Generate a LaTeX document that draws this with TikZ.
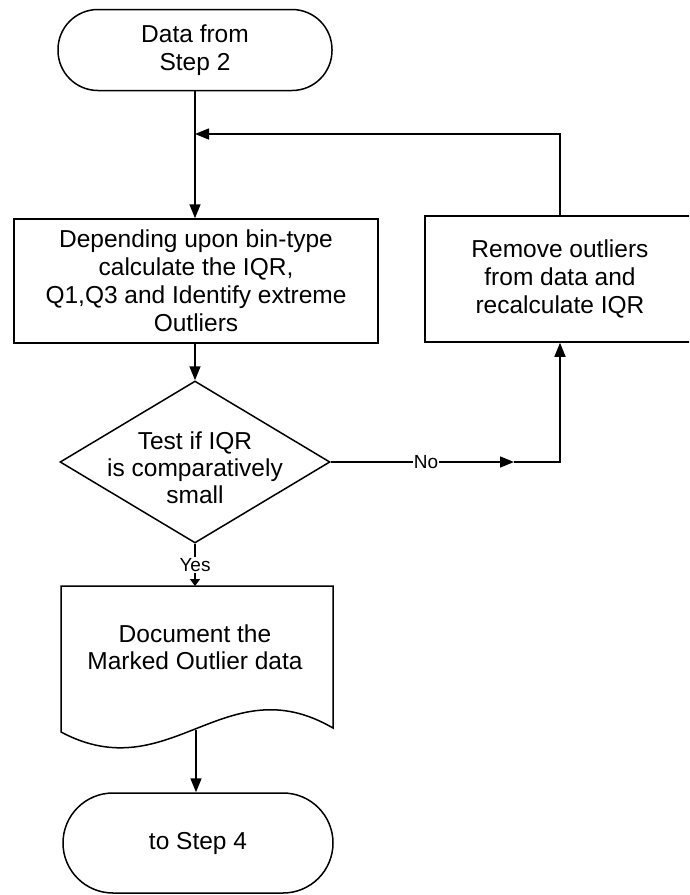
\documentclass[tikz,border=0pt]{standalone}
\usepackage{fontspec}
\setmainfont{Liberation Sans}
\usetikzlibrary{arrows.meta,shapes.geometric}
\tikzset{
  base/.style={font=\fontsize{24.5}{28}\selectfont, align=center, line width=1.5pt},
  term/.style={base, draw, rounded corners=40pt, inner sep=0pt},
  procbox/.style={base, draw, inner sep=0pt},
  dia/.style={draw, diamond, line width=1.5pt, inner sep=0pt, minimum width=270pt, minimum height=162pt},
  txt/.style={font=\fontsize{24.5}{27}\selectfont, align=center, inner sep=0pt},
  lbl/.style={font=\fontsize{19}{21}\selectfont, fill=white, inner sep=1pt},
  arr/.style={line width=1.5pt, -{Triangle[length=14pt,width=11pt]}},
  sarr/.style={line width=1.5pt, -{Triangle[length=7pt,width=10pt]}},
  ln/.style={line width=1.5pt}
}
\begin{document}
\begin{tikzpicture}[x=1pt,y=-1pt]
\useasboundingbox (0,0) rectangle (689,895);
\clip (0,0) rectangle (689,895);
\fill[white] (0,0) rectangle (689,895);

% nodes
\node[term, minimum width=274pt, minimum height=81pt] (start) at (195,50) {Data from\\Step 2};
\node[procbox, minimum width=364pt, minimum height=124pt] (calc) at (196,281) {Depending upon bin-type\\calculate the IQR,\\Q1,Q3 and Identify extreme\\Outliers};
\node[procbox, minimum width=270pt, minimum height=126pt] (rem) at (560,279) {Remove outliers\\from data and\\recalculate IQR};
\node[dia] (dec) at (195,462) {};
\node[txt] (dectxt) at (195,468) {Test if IQR\\is comparatively\\small};

% document shape
\coordinate (doctop) at (195,586);
\coordinate (docbot) at (196,730);
\draw[ln] (61,586) -- (333,586) -- (333,728)
  .. controls (225,665) and (170,790) .. (61,732) -- cycle;
\node[txt] (doctxt) at (195,647) {Document the\\Marked Outlier data};

\node[term, rounded corners=50pt, minimum width=270pt, minimum height=100pt] (stop) at (198,843) {to Step 4};

% connectors
\coordinate (fbj) at (195,134);
\draw[arr] (start.south) -- (calc.north -| start.south);
\draw[arr] (rem.north) |- (fbj);
\draw[arr] (calc.south -| dec.north) -- (dec.north);

\coordinate (nomid) at (514,462);
\coordinate (nocorner) at (560,462);
\draw[arr] (dec.east) -- node[lbl, pos=0.52] (nolbl) {No} (nomid);
\draw[arr] (nomid) -- (nocorner) -- (rem.south);

\draw[sarr] (dec.south) -- node[lbl, pos=0.5] (yeslbl) {Yes} (doctop);
\draw[arr] (docbot) -- (stop.north -| docbot);
\end{tikzpicture}
\end{document}
